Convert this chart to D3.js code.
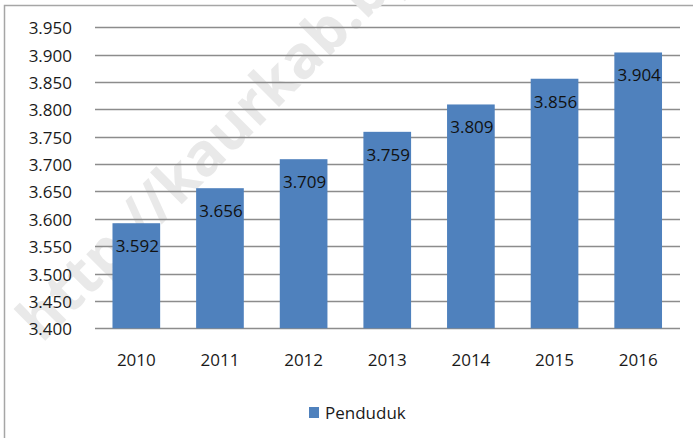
<!DOCTYPE html>
<html>
<head>
<meta charset="utf-8">
<script src="https://cdn.jsdelivr.net/npm/d3@7"></script>
<style>
  body { margin: 0; background: #fff; }
  svg { display: block; font-family: "Open Sans", sans-serif; }
</style>
</head>
<body>
<div id="chart"></div>
<script>
let width = 693,
    height = 438;

// data
let years = ["2010", "2011", "2012", "2013", "2014", "2015", "2016"];
let penduduk = [3.592, 3.656, 3.709, 3.759, 3.809, 3.856, 3.904];
let yTicks = [3.400, 3.450, 3.500, 3.550, 3.600, 3.650, 3.700, 3.750, 3.800, 3.850, 3.900, 3.950];
let seriesName = "Penduduk";
let watermark = "http://kaurkab.bps.go.id";

let barColor = "#4f81bd";
let gridColor = "#8c8c8c";
let fmt = d3.format(".3f");

let svg = d3.select("#chart")
    .append("svg")
    .attr("width", width)
    .attr("height", height);

// outer frame (only top + left visible in the crop)
svg.append("path")
    .attr("d", "M4.5,438 V5.5 H693")
    .attr("fill", "none")
    .attr("stroke", "#a6a6a6")
    .attr("stroke-width", 1.5);

// faint watermark behind everything
svg.append("text")
    .attr("transform", "translate(42,344) rotate(-45)")
    .attr("font-size", 59)
    .attr("font-weight", "bold")
    .attr("fill", "#e9e9e9")
    .text(watermark);

//scales
let x = d3.scaleBand()
    .domain(years)
    .range([94.5, 680])
    .paddingInner(0.43)
    .paddingOuter(0.215);

let y = d3.scaleLinear()
    .domain([3.4, 3.95])
    .range([328.3, 27.3]);

//gridlines
svg.append("g")
    .selectAll("line")
    .data(yTicks)
    .enter()
    .append("line")
    .attr("x1", 95)
    .attr("x2", 680)
    .attr("y1", d => Math.round(y(d)) + 0.5)
    .attr("y2", d => Math.round(y(d)) + 0.5)
    .attr("stroke", gridColor)
    .attr("stroke-width", 1.3);

//y axis labels
let yAxis = d3.axisLeft(y)
    .tickValues(yTicks)
    .tickFormat(fmt)
    .tickSize(0)
    .tickPadding(0);

svg.append("g")
    .attr("transform", "translate(72,1)")
    .call(yAxis)
    .call(g => g.select(".domain").remove())
    .selectAll("text")
    .attr("font-family", "Open Sans, sans-serif")
    .attr("font-size", 17)
    .attr("fill", "#1a1a1a");

//bars
svg.append("g")
    .selectAll("rect")
    .data(penduduk)
    .enter()
    .append("rect")
    .attr("x", (d, i) => x(years[i]))
    .attr("y", d => y(d))
    .attr("width", x.bandwidth())
    .attr("height", d => y(3.4) - y(d))
    .attr("fill", barColor);

//bar labels, inside the top of each bar
svg.append("g")
    .selectAll("text")
    .data(penduduk)
    .enter()
    .append("text")
    .attr("x", (d, i) => x(years[i]) + x.bandwidth() / 2 + 1)
    .attr("y", d => y(d) + 29)
    .attr("text-anchor", "middle")
    .attr("font-size", 17)
    .attr("fill", "#111")
    .text(d => fmt(d));

//x axis labels
let xAxis = d3.axisBottom(x)
    .tickSize(0)
    .tickPadding(0);

svg.append("g")
    .attr("transform", "translate(0,354)")
    .call(xAxis)
    .call(g => g.select(".domain").remove())
    .selectAll("text")
    .attr("font-family", "Open Sans, sans-serif")
    .attr("font-size", 17)
    .attr("fill", "#1a1a1a");

//legend
let legend = svg.append("g")
    .attr("transform", "translate(309,407)");
legend.append("rect")
    .attr("width", 10)
    .attr("height", 11)
    .attr("fill", barColor);
legend.append("text")
    .attr("x", 16)
    .attr("y", 11.5)
    .attr("font-size", 17)
    .attr("fill", "#1a1a1a")
    .text(seriesName);
</script>
</body>
</html>
